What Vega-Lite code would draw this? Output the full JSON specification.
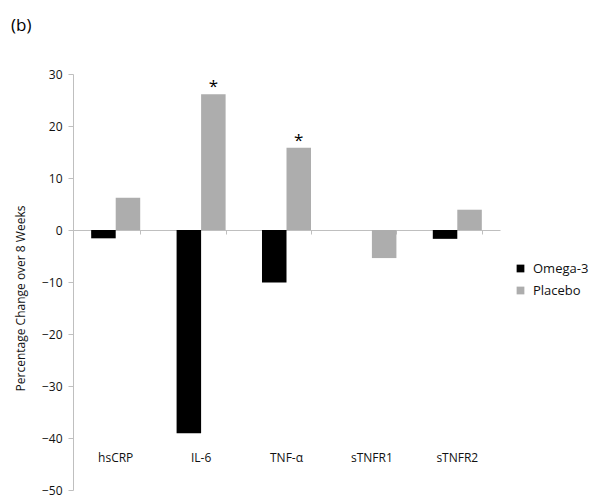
{
  "$schema": "https://vega.github.io/schema/vega-lite/v6.json",
  "width": 427,
  "height": 416,
  "autosize": "none",
  "padding": {"left": 73, "top": 74, "right": 102, "bottom": 14},
  "background": "white",
  "config": {"view": {"stroke": null}, "font": "Open Sans"},
  "title": {"text": "(b)", "anchor": "start", "frame": "group", "dx": -62, "offset": 33, "fontSize": 17, "fontWeight": "normal", "font": "Open Sans", "color": "#000"},
  "data": {"values": [
    {"marker": "hsCRP", "group": "Omega-3", "change": -1.6, "sig": ""},
    {"marker": "hsCRP", "group": "Placebo", "change": 6.2, "sig": ""},
    {"marker": "IL-6", "group": "Omega-3", "change": -39.1, "sig": ""},
    {"marker": "IL-6", "group": "Placebo", "change": 26.1, "sig": "*"},
    {"marker": "TNF-α", "group": "Omega-3", "change": -10.1, "sig": ""},
    {"marker": "TNF-α", "group": "Placebo", "change": 15.8, "sig": "*"},
    {"marker": "sTNFR1", "group": "Omega-3", "change": 0, "sig": ""},
    {"marker": "sTNFR1", "group": "Placebo", "change": -5.4, "sig": ""},
    {"marker": "sTNFR2", "group": "Omega-3", "change": -1.7, "sig": ""},
    {"marker": "sTNFR2", "group": "Placebo", "change": 3.9, "sig": ""}
  ]},
  "encoding": {
    "x": {"field": "marker", "type": "nominal", "sort": null,
          "scale": {"paddingInner": 0.426, "paddingOuter": 0.213}},
    "xOffset": {"field": "group", "type": "nominal", "scale": {"paddingInner": 0, "paddingOuter": 0}},
    "y": {"field": "change", "type": "quantitative",
          "scale": {"domain": [-50, 30], "nice": false, "zero": false},
          "axis": {"values": [-50, -40, -30, -20, -10, 0, 10, 20, 30], "grid": false,
                   "domainColor": "#bfbfbf", "tickColor": "#bfbfbf", "tickSize": 5,
                   "labelFontSize": 12, "labelColor": "#111", "labelPadding": 6,
                   "title": "Percentage Change over 8 Weeks", "titleFontSize": 12, "titleFontWeight": "normal",
                   "titleColor": "#111", "titlePadding": 14, "titleY": 224}}
  },
  "layer": [
    {
      "mark": {"type": "bar"},
      "encoding": {
        "x": {"field": "marker", "type": "nominal", "sort": null,
              "axis": {"orient": "bottom", "domain": false, "ticks": false, "labelAngle": 0,
                       "labelFontSize": 12, "labelColor": "#111", "labelPadding": -38, "title": null}},
        "color": {"field": "group", "type": "nominal",
                  "scale": {"domain": ["Omega-3", "Placebo"], "range": ["#000000", "#adadad"]},
                  "legend": {"title": null, "orient": "none", "legendX": 441, "legendY": 188,
                             "symbolType": "square", "symbolSize": 60, "symbolStrokeWidth": 0,
                             "labelFontSize": 13, "labelColor": "#111", "rowPadding": 8, "labelOffset": 6}}
      }
    },
    {
      "mark": {"type": "text", "fontSize": 17, "baseline": "middle", "dy": -7, "color": "#000"},
      "encoding": {
        "x": {"field": "marker", "type": "nominal", "sort": null,
              "axis": {"orient": "top", "offset": -156, "domainColor": "#bfbfbf", "tickColor": "#bfbfbf",
                       "tickSize": -4, "tickBand": "extent", "labels": false, "title": null}},
        "text": {"field": "sig"}
      }
    }
  ],
  "resolve": {"axis": {"x": "independent"}}
}
